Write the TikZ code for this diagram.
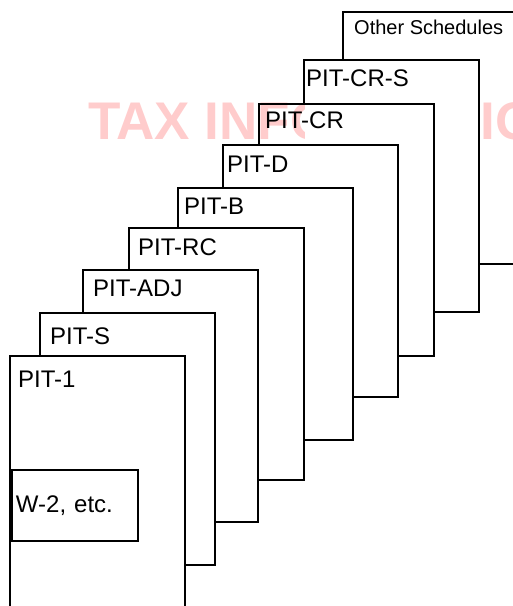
\documentclass[tikz,border=0pt]{standalone}
\usepackage{fontspec}
\setmainfont{Liberation Sans}
\usetikzlibrary{positioning}

\begin{document}
\begin{tikzpicture}[
    x=1pt, y=-1pt,
    card/.style={draw, line width=2pt, fill=white, rectangle, anchor=north west,
        minimum width=175pt, minimum height=252pt, inner sep=0pt, outer sep=0pt},
    tag/.style={anchor=base west, inner sep=0pt, font=\fontsize{24}{24}\selectfont},
    wmark/.style={anchor=base west, inner sep=0pt, text=red!20,
        font=\fontsize{53}{53}\selectfont\bfseries}
]
\path[use as bounding box, clip] (0,0) rectangle (513,606);

% Watermark
\node[wmark] (wm) at (88,139) {TAX INFORMATION};

% Cards, back to front
\node[card, fill=none] (os) at (343,12) {};
\node[card] (crs) at (304,60) {};
\node[card, path picture={
    \clip (path picture bounding box.north west) rectangle (crs.west |- path picture bounding box.south);
    \node[wmark] (wmcr) at (wm.base west) {TAX INFORMATION};}] (cr) at (259,104) {};
\node[card] (d) at (223,145) {};
\node[card] (b) at (178,188) {};
\node[card] (rc) at (129,228) {};
\node[card] (adj) at (83,270) {};
\node[card] (s) at (40,313) {};
\node[card] (p1) at (10,356) {};

% Labels
\node[tag, font=\fontsize{20}{20}\selectfont] (tos) at ([shift={(11,22)}]os.north west) {Other Schedules};
\node[tag] (tcrs) at ([shift={(2,26)}]crs.north west) {PIT-CR-S};
\node[tag] (tcr) at ([shift={(6,24)}]cr.north west) {PIT-CR};
\node[tag] (td) at ([shift={(4,27)}]d.north west) {PIT-D};
\node[tag] (tb) at ([shift={(6,26)}]b.north west) {PIT-B};
\node[tag] (trc) at ([shift={(9,27)}]rc.north west) {PIT-RC};
\node[tag] (tadj) at ([shift={(10,26)}]adj.north west) {PIT-ADJ};
\node[tag] (ts) at ([shift={(10,31)}]s.north west) {PIT-S};
\node[tag] (tp1) at ([shift={(8,31)}]p1.north west) {PIT-1};

% Attachment
\node[draw, line width=2pt, anchor=north west, minimum width=126pt, minimum height=71pt,
    text width=118pt, align=left, inner sep=4pt, font=\fontsize{24}{24}\selectfont] (w2) at (11,469) {W-2, etc.};

\end{tikzpicture}
\end{document}
